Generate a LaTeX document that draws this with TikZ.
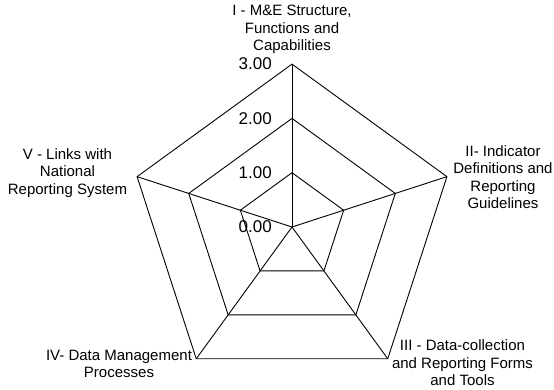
\documentclass[tikz,border=0pt]{standalone}
\usepackage{fontspec}
\setmainfont{Liberation Sans}
\usetikzlibrary{positioning,calc}

\tikzset{
  axislabel/.style={align=center, font=\fontsize{15}{17.5}\selectfont, inner sep=0pt},
  ticklabel/.style={anchor=east, font=\fontsize{17}{20}\selectfont, inner sep=0pt},
  gridline/.style={line width=0.9pt, line join=miter}
}

\begin{document}
\begin{tikzpicture}[x=1pt,y=1pt]
  \useasboundingbox (0,0) rectangle (554,389);
  \coordinate (o) at (292,162);

  % ring vertices, one ring per score level
  \foreach \l in {1,2,3}{
    \foreach \k in {1,...,5}
      \coordinate (v\k-\l) at ($(o)+({90-72*(\k-1)}:{54.3*\l})$);
  }

  % rings and spokes
  \foreach \l in {1,2,3}
    \draw[gridline] (v1-\l) -- (v2-\l) -- (v3-\l) -- (v4-\l) -- (v5-\l) -- cycle;
  \foreach \k in {1,...,5}
    \draw[gridline] (o) -- (v\k-3);

  % scale values along the first axis
  \foreach \l/\txt in {0/0.00,1/1.00,2/2.00,3/3.00}
    \node[ticklabel] (tick\l) at (272,{162+54.3*\l}) {\txt};

  % axis titles
  \node[axislabel] (lab1) at (292,359.5) {I - M\&E Structure,\\Functions and\\Capabilities};
  \node[axislabel] (lab2) at (503,212) {II- Indicator\\Definitions and\\Reporting\\Guidelines};
  \node[axislabel] (lab3) at (462.5,26) {III - Data-collection\\and Reporting Forms\\and Tools};
  \node[axislabel] (lab4) at (119,25) {IV- Data Management\\Processes};
  \node[axislabel] (lab5) at (67.5,216) {V - Links with\\National\\Reporting System};
\end{tikzpicture}
\end{document}
